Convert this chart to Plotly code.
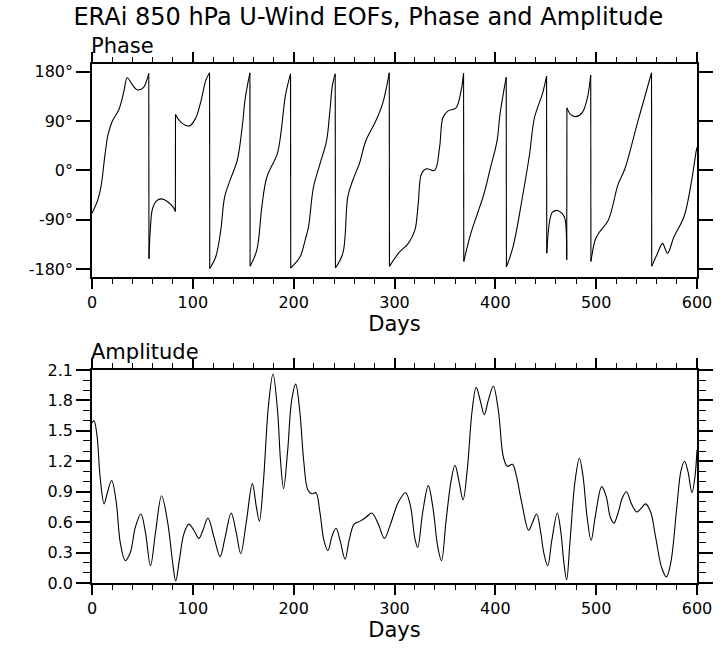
import plotly.graph_objects as go

# ---------------- data ----------------
title_text = "ERAi 850 hPa U-Wind EOFs, Phase and Amplitude"

# Phase (degrees); None separates the wrapped segments
phase_days = [
    0, 5.5, 8.8, 13, 16, 20.2, 26.7, 31.6, 34.9, 39.7, 44.6, 51, 54.4, 56.3, None,
    56.5, 58, 60, 64.2, 69, 75.6, 80.5, 82.7, None,
    82.8, 88.6, 96.7, 103, 108, 113, 116.6, None,
    116.8, 122.8, 127.7, 131.6, 137.5, 144, 148.9, 152, 156.6, None,
    156.8, 163.5, 168.4, 173.3, 183.7, 187, 192, 196.9, None,
    197.1, 206.5, 211.4, 214.7, 219.6, 226.1, 232.6, 235.9, 238.5, 241.2, None,
    241.4, 248.8, 253.7, 258.6, 265.1, 271.6, 281.4, 287.9, 291.2, 294.8, None,
    295.0, 304, 313.7, 320.2, 323.5, 326.8, 331.7, 339.8, 344.7, 348, 352.8, 361, 365.9, 368.5, None,
    368.7, 375.7, 382.2, 388.7, 395.2, 401.7, 404.6, 410.8, None,
    411.0, 417.6, 427.4, 433.9, 438.8, 446.9, 450.8, None,
    451.0, 454, 456.7, 461.6, 466.4, 469, 470.8, None,
    471.0, 474.6, 479.5, 486, 490.9, 494.6, None,
    494.8, 499, 502.3, 512, 521.8, 528.3, 541.4, 547.9, 554.9, None,
    555.1, 560.9, 565.8, 570.7, 577.2, 587, 593.5, 599.3, 600,
]
phase_vals = [
    -78, -55, -31, 30, 66, 90, 111, 144, 169, 157, 147, 151, 165, 177, None,
    -161, -103, -70, -55, -52, -58, -67, -75, None,
    102, 87, 81, 96, 126, 165, 178, None,
    -179, -157, -109, -48, -15, 18, 78, 132, 178, None,
    -175, -145, -67, -13, 30, 63, 138, 176, None,
    -178, -157, -127, -103, -31, 12, 54, 108, 156, 176, None,
    -178, -151, -48, -18, 12, 54, 90, 120, 144, 178, None,
    -175, -151, -133, -109, -61, -6, 3, 0, 42, 96, 108, 114, 144, 177, None,
    -166, -115, -79, -43, 5, 54, 102, 170, None,
    -176, -139, -43, 29, 96, 141, 172, None,
    -151, -91, -76, -73, -79, -88, -163, None,
    114, 102, 98, 105, 129, 174, None,
    -166, -127, -115, -91, -25, 2, 90, 132, 178, None,
    -175, -151, -133, -151, -121, -85, -31, 36, 42,
]

amp_days = [
    0, 2, 5, 8, 12, 15, 19.5, 24, 28, 33, 38, 43, 48.5, 53, 58, 63, 69, 75, 80, 83,
    87, 91, 96, 101, 106, 110, 115, 121, 127, 132, 138, 143, 147.5, 153, 159, 163,
    166, 170, 175, 179.5, 184, 187, 190, 194, 198, 202, 206, 210, 214, 218, 222,
    226, 230, 234, 238, 242, 246, 251, 255, 260, 266, 272, 277.5, 284, 290, 296,
    304, 311, 316, 320, 323, 328, 333.5, 338, 343, 346.6, 351, 356, 360, 364, 368,
    372, 377, 381, 385, 389, 393, 398, 403, 408, 412, 417, 421, 426, 433, 437, 441,
    445, 448, 452, 456, 461.5, 465, 468, 470.7, 474, 479, 483.4, 487, 491, 495, 499,
    505.5, 510, 514, 517.6, 522, 526, 530, 535, 540.4, 545, 549, 554, 559, 565,
    569.7, 574, 580, 584, 587.6, 591, 595, 598, 600,
]
amp_vals = [
    1.58, 1.60, 1.45, 1.05, 0.78, 0.88, 1.01, 0.80, 0.40, 0.22, 0.30, 0.55, 0.68, 0.50, 0.17, 0.50, 0.86, 0.60, 0.20, 0.02,
    0.25, 0.48, 0.58, 0.52, 0.44, 0.52, 0.64, 0.45, 0.26, 0.45, 0.69, 0.50, 0.29, 0.60, 0.98, 0.75,
    0.61, 1.00, 1.75, 2.06, 1.70, 1.20, 0.93, 1.30, 1.80, 1.96, 1.70, 1.20, 0.92, 0.88, 0.89,
    0.70, 0.42, 0.32, 0.46, 0.54, 0.42, 0.235, 0.42, 0.58, 0.61, 0.65, 0.69, 0.58, 0.44, 0.58,
    0.80, 0.89, 0.75, 0.45, 0.35, 0.70, 0.96, 0.75, 0.35, 0.22, 0.60, 1.00, 1.16, 1.00, 0.82,
    1.10, 1.70, 1.93, 1.80, 1.66, 1.80, 1.94, 1.70, 1.24, 1.15, 1.17, 1.05, 0.80, 0.52, 0.60, 0.68,
    0.50, 0.30, 0.17, 0.42, 0.69, 0.50, 0.20, 0.03, 0.40, 1.00, 1.23, 1.05, 0.65, 0.42, 0.65,
    0.95, 0.85, 0.65, 0.59, 0.70, 0.84, 0.90, 0.78, 0.70, 0.74, 0.78, 0.70, 0.45, 0.15,
    0.06, 0.20, 0.75, 1.10, 1.20, 1.10, 0.89, 1.05, 1.31,
]

x_ticks = [0, 100, 200, 300, 400, 500, 600]
phase_ticks = [-180, -90, 0, 90, 180]
phase_tick_labels = ["-180°", "-90°", "0°", "90°", "180°"]
amp_ticks = [0.0, 0.3, 0.6, 0.9, 1.2, 1.5, 1.8, 2.1]
amp_tick_labels = ["0.0", "0.3", "0.6", "0.9", "1.2", "1.5", "1.8", "2.1"]

# jump (wrap) lines derived from the segment ends
jump_x, jump_y = [], []
for i, v in enumerate(phase_days):
    if v is None:
        jump_x += [phase_days[i - 1], phase_days[i + 1], None]
        jump_y += [phase_vals[i - 1], phase_vals[i + 1], None]

FONT = "DejaVu Sans"
LW = 1.1
fig = go.Figure()
fig.add_trace(go.Scatter(x=phase_days, y=phase_vals, mode="lines",
                         line=dict(color="black", width=LW, shape="spline", smoothing=1.0),
                         connectgaps=False, xaxis="x", yaxis="y", showlegend=False))
fig.add_trace(go.Scatter(x=jump_x, y=jump_y, mode="lines",
                         line=dict(color="black", width=LW),
                         xaxis="x", yaxis="y", showlegend=False))
fig.add_trace(go.Scatter(x=amp_days, y=amp_vals, mode="lines",
                         line=dict(color="black", width=LW, shape="spline", smoothing=1.0),
                         xaxis="x2", yaxis="y2", showlegend=False))

axis_common = dict(showline=True, linecolor="black", linewidth=1.5, mirror="allticks",
                   ticks="outside", tickcolor="black", showgrid=False, zeroline=False,
                   tickfont=dict(family=FONT, size=16, color="black"))

xaxis_common = dict(axis_common, range=[0, 600], tickvals=x_ticks, ticklen=10, tickwidth=1.5,
                    minor=dict(dtick=20, ticklen=5, tickcolor="black", tickwidth=1, ticks="outside"),
                    title=dict(text="Days", font=dict(family=FONT, size=21, color="black"), standoff=4))

fig.update_layout(
    width=725, height=649,
    margin=dict(l=92, r=19, t=64, b=62),
    paper_bgcolor="white", plot_bgcolor="white",
    title=dict(text=title_text, x=0.508, xanchor="center", y=0.974, yanchor="middle",
               font=dict(family=FONT, size=24, color="black")),
    xaxis=dict(xaxis_common, domain=[0, 1], anchor="y"),
    yaxis=dict(axis_common, domain=[0.59, 1], anchor="x", range=[-194, 194],
               tickvals=phase_ticks, ticktext=phase_tick_labels, ticklen=14, tickwidth=1.5),
    xaxis2=dict(xaxis_common, domain=[0, 1], anchor="y2"),
    yaxis2=dict(axis_common, domain=[0, 0.4105], anchor="x2", range=[0, 2.1],
                tickvals=amp_ticks, ticktext=amp_tick_labels, ticklen=14, tickwidth=1.5,
                zeroline=True, zerolinecolor="black", zerolinewidth=3,
                minor=dict(dtick=0.1, ticklen=7, tickcolor="black", tickwidth=1, ticks="outside")),
    annotations=[
        dict(text="Phase", xref="paper", yref="paper", x=0, y=1, xanchor="left", yanchor="bottom",
             xshift=-3, yshift=4, showarrow=False, font=dict(family=FONT, size=21, color="black")),
        dict(text="Amplitude", xref="paper", yref="paper", x=0, y=0.4105, xanchor="left", yanchor="bottom",
             xshift=-3, yshift=4, showarrow=False, font=dict(family=FONT, size=21, color="black")),
    ],
)

fig.write_html("out.html")
